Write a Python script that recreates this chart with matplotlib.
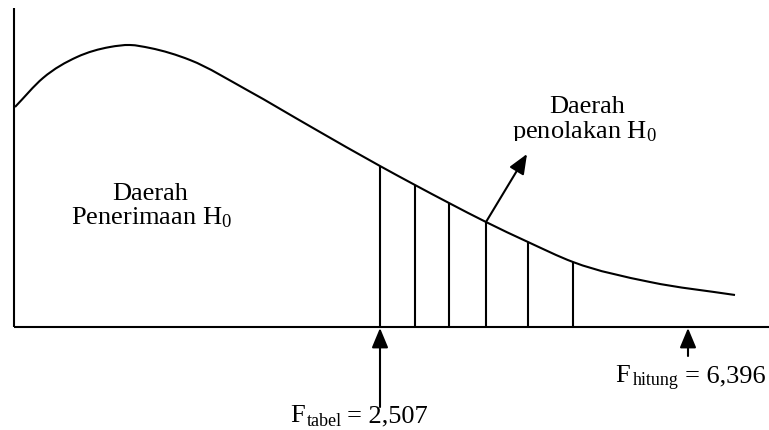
import numpy as np
import matplotlib.pyplot as plt
from matplotlib.patches import Rectangle, PathPatch
from matplotlib.path import Path

plt.rcParams['font.family'] = ['Liberation Serif', 'DejaVu Serif']
plt.rcParams['mathtext.fontset'] = 'custom'
plt.rcParams['mathtext.rm'] = 'Liberation Serif'
plt.rcParams['mathtext.it'] = 'Liberation Serif:italic'

# kurva distribusi F (sketsa, satuan gambar)
curve_x = [15, 43, 77, 110, 130, 150, 190, 247, 313, 380, 415, 449, 486, 528, 573, 650, 735]
curve_y = [107, 78, 57, 47, 45, 48, 60, 90, 128, 166, 185, 203, 222, 242, 262, 282, 295]

# garis arsir daerah penolakan
arsir_x = [380, 415, 449, 486, 528, 573]

f_tabel_x = 380
f_hitung_x = 688
f_tabel_label = "= 2,507"
f_hitung_label = "= 6,396"


def smooth_path(xs, ys):
    # kurva halus lewat titik-titik (hermite -> bezier)
    x = np.asarray(xs, float)
    y = np.asarray(ys, float)
    m = np.gradient(y, x)
    verts = [(x[0], y[0])]
    codes = [Path.MOVETO]
    for i in range(len(x) - 1):
        h = (x[i + 1] - x[i]) / 3
        verts += [(x[i] + h, y[i] + m[i] * h),
                  (x[i + 1] - h, y[i + 1] - m[i + 1] * h),
                  (x[i + 1], y[i + 1])]
        codes += [Path.CURVE4] * 3
    return Path(verts, codes)


fig = plt.figure(figsize=(7.69, 4.30), dpi=100)
ax = fig.add_axes([0, 0, 1, 1])
ax.set_xlim(0, 769)
ax.set_ylim(430, 0)
ax.axis('off')

lw = 1.5
# sumbu
ax.plot([14, 14], [8, 327], color='black', lw=lw, solid_capstyle='butt')
ax.plot([14, 769], [327, 327], color='black', lw=lw, solid_capstyle='butt')

# kurva
ax.add_patch(PathPatch(smooth_path(curve_x, curve_y), fill=False, ec='black', lw=lw))

# arsir
arsir_top = np.interp(arsir_x, curve_x, curve_y)
ax.vlines(arsir_x, arsir_top, 327, color='black', lw=lw)

arr = dict(arrowstyle='-|>,head_length=0.6,head_width=0.25', mutation_scale=20,
           lw=lw, color='black', shrinkA=0, shrinkB=0)
ax.annotate('', xy=(f_tabel_x, 328), xytext=(f_tabel_x, 407), arrowprops=arr)
ax.annotate('', xy=(f_hitung_x, 328), xytext=(f_hitung_x, 356), arrowprops=arr)
ax.annotate('', xy=(527, 154), xytext=(486, 222), arrowprops=arr)

fs = 19
fs_sub = 13
ax.text(150, 200, "Daerah", fontsize=fs, ha='center', va='baseline')
ax.text(151, 224, r"Penerimaan H$_0$", fontsize=fs, ha='center', va='baseline')

ax.text(587, 113, "Daerah", fontsize=fs, ha='center', va='baseline')
t = ax.text(584, 138, r"penolakan H$_0$", fontsize=fs, ha='center', va='baseline')
t.set_clip_on(True)
t.set_clip_path(Rectangle((0, 0), 769, 141, transform=ax.transData))

# F hitung
ax.text(615, 382, "F", fontsize=fs, ha='left', va='baseline')
ax.text(633, 385, "hitung", fontsize=fs_sub, ha='left', va='baseline')
ax.text(685, 382, f_hitung_label, fontsize=fs, ha='left', va='baseline')

# F tabel
ax.text(290, 422, "F", fontsize=fs, ha='left', va='baseline')
ax.text(307, 426, "tabel", fontsize=fs_sub, ha='left', va='baseline')
ax.text(347, 422, f_tabel_label, fontsize=fs, ha='left', va='baseline')

fig.savefig('out.png', dpi=100)
